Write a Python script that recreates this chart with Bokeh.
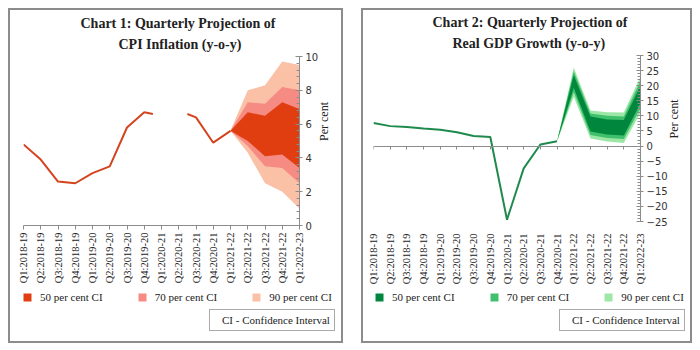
import math
from bokeh.plotting import figure
from bokeh.models import (LinearAxis, FixedTicker, SingleIntervalTicker, Legend,
                          LegendItem, Title, Range1d)
from bokeh.layouts import row, column
from bokeh.embed import file_html
from bokeh.resources import INLINE

# ---------------- data ----------------
quarters = ["Q1:2018-19", "Q2:2018-19", "Q3:2018-19", "Q4:2018-19",
            "Q1:2019-20", "Q2:2019-20", "Q3:2019-20", "Q4:2019-20",
            "Q1:2020-21", "Q2:2020-21", "Q3:2020-21", "Q4:2020-21",
            "Q1:2021-22", "Q2:2021-22", "Q3:2021-22", "Q4:2021-22",
            "Q1:2022-23"]

# Chart 1: CPI inflation (y-o-y, per cent)
cpi_actual = [4.8, 3.9, 2.6, 2.5, 3.1, 3.5, 5.8, 6.7, 6.5, 6.8, 6.4, 4.9, 5.6]
cpi_gap_quarters = ["Q1:2020-21", "Q2:2020-21"]
cpi_fan_start = "Q1:2021-22"
cpi_50_low = [5.6, 5.0, 4.1, 4.2, 3.4]
cpi_50_high = [5.6, 6.7, 6.5, 7.3, 6.9]
cpi_70_low = [5.6, 4.7, 3.5, 3.4, 2.5]
cpi_70_high = [5.6, 7.3, 7.2, 8.2, 8.0]
cpi_90_low = [5.6, 4.3, 2.5, 2.0, 1.0]
cpi_90_high = [5.6, 8.0, 8.3, 9.7, 9.5]

# Chart 2: Real GDP growth (y-o-y, per cent)
gdp_actual = [7.6, 6.6, 6.3, 5.8, 5.4, 4.6, 3.3, 3.0, -24.4, -7.4, 0.5, 1.6]
gdp_gap_quarters = []
gdp_fan_start = "Q4:2020-21"
gdp_50_low = [1.6, 19.3, 4.8, 3.8, 3.5, 14.2]
gdp_50_high = [1.6, 23.5, 9.8, 8.8, 8.6, 20.0]
gdp_70_low = [1.6, 17.9, 3.7, 2.7, 2.3, 12.6]
gdp_70_high = [1.6, 24.8, 10.8, 10.0, 9.8, 21.6]
gdp_90_low = [1.6, 16.3, 2.5, 1.5, 1.0, 11.0]
gdp_90_high = [1.6, 26.0, 11.8, 11.2, 11.1, 23.0]

ci_labels = ["50 per cent CI", "70 per cent CI", "90 per cent CI"]

SERIF = "Liberation Serif"
SANS = "DejaVu Sans"
AXIS_GREY = "#8c8c8c"
TEXT = "#222222"
LEG_H = 54


def broken_line(values, gaps):
    xs, ys, cx, cy = [], [], [], []
    for i, v in enumerate(values):
        if quarters[i] in gaps:
            if cx:
                cx.append(i - 0.5)
                cy.append((values[i - 1] + v) / 2)
                xs.append(cx)
                ys.append(cy)
                cx, cy = [], []
            continue
        if i > 0 and quarters[i - 1] in gaps:
            cx.append(i - 0.5)
            cy.append((values[i - 1] + v) / 2)
        cx.append(i)
        cy.append(v)
    if cx:
        xs.append(cx)
        ys.append(cy)
    return xs, ys


def no_align(fig):
    if "frame_align" in fig.properties():
        fig.frame_align = False


def make_panel(t1, t2, w, h, mb, yr, ystep, actual, gaps, fan_start, bands,
               band_colors, line_color, zero_axis, leg_loc, ci_loc, title_offsets):
    p = figure(width=w, height=h - LEG_H, x_range=Range1d(0, len(quarters) - 1),
               y_range=Range1d(*yr), output_backend="svg", toolbar_location=None,
               x_axis_location=None, y_axis_location=None, title=None,
               min_border_left=mb[0], min_border_right=mb[1],
               min_border_top=mb[2], min_border_bottom=mb[3] - LEG_H,
               outline_line_color=None, background_fill_color="white",
               border_fill_color="white")
    no_align(p)
    p.grid.visible = False

    # fan chart bands
    i0 = quarters.index(fan_start)
    fx = list(range(i0, i0 + len(bands[0][0])))
    for (lo, hi), col in zip(bands, band_colors):
        p.varea(x=fx, y1=lo, y2=hi, fill_color=col, fill_alpha=1.0)

    # actual line
    xs, ys = broken_line(actual, gaps)
    p.multi_line(xs, ys, line_color=line_color, line_width=2)

    # x axis (labels)
    xax = LinearAxis(ticker=FixedTicker(ticks=list(range(len(quarters)))),
                     major_label_overrides={i: q for i, q in enumerate(quarters)},
                     major_label_orientation=math.pi / 2,
                     major_label_text_font=SERIF, major_label_text_font_size="10.5px",
                     major_label_text_color=TEXT, major_label_standoff=3,
                     minor_tick_line_color=None)
    if zero_axis:
        xax.axis_line_color = None
        xax.major_tick_line_color = None
        xax.major_label_standoff = 6
    else:
        xax.axis_line_color = AXIS_GREY
        xax.major_tick_line_color = AXIS_GREY
        xax.major_tick_out = 4
        xax.major_tick_in = 0
    p.add_layout(xax, "below")

    if zero_axis:
        zax = LinearAxis(fixed_location=0,
                         ticker=FixedTicker(ticks=list(range(len(quarters)))),
                         major_label_overrides={i: "" for i in range(len(quarters))},
                         major_label_text_font_size="1px", major_label_standoff=0,
                         axis_line_color=AXIS_GREY, major_tick_line_color=AXIS_GREY,
                         major_tick_out=3, major_tick_in=0,
                         minor_tick_line_color=None)
        p.add_layout(zax, "below")

    # y axis on the right
    yax = LinearAxis(ticker=SingleIntervalTicker(interval=ystep, num_minor_ticks=5),
                     axis_label="Per cent", axis_label_text_font=SERIF,
                     axis_label_text_font_size="12px", axis_label_text_font_style="normal",
                     axis_label_text_color=TEXT, axis_label_standoff=3,
                     major_label_text_font=SANS, major_label_text_font_size="10px",
                     major_label_text_color="#333333", major_label_standoff=3,
                     axis_line_color=AXIS_GREY, major_tick_line_color=AXIS_GREY,
                     minor_tick_line_color=AXIS_GREY,
                     major_tick_in=4, major_tick_out=3, minor_tick_in=3, minor_tick_out=0)
    if "axis_label_orientation" in yax.properties():
        yax.axis_label_orientation = math.pi / 2
    p.add_layout(yax, "right")

    # titles (second line closest to the plot)
    for txt, so, off in ((t2, 9, title_offsets[1]), (t1, 0, title_offsets[0])):
        p.add_layout(Title(text=txt, align="left", offset=off, standoff=so,
                           text_font=SERIF, text_font_size="14px",
                           text_font_style="bold", text_color=TEXT), "above")

    # legend strip below the chart (band renderers lie outside its visible range)
    q = figure(width=w, height=LEG_H, x_range=Range1d(-2, -1), y_range=Range1d(0, 1),
               output_backend="svg", toolbar_location=None, x_axis_location=None,
               y_axis_location=None, title=None, min_border=0,
               outline_line_color=None, background_fill_color="white",
               border_fill_color="white")
    no_align(q)
    q.grid.visible = False
    lrends = [q.varea(x=fx, y1=lo, y2=hi, fill_color=col, fill_alpha=1.0)
              for (lo, hi), col in zip(bands, band_colors)]
    items = [LegendItem(label=ci_labels[k], renderers=[lrends[2 - k]]) for k in range(3)]
    leg = Legend(items=items, orientation="horizontal", location=leg_loc,
                 glyph_width=10, glyph_height=10, label_standoff=8, spacing=34,
                 padding=0, margin=0, label_height=12,
                 label_text_font=SERIF, label_text_font_size="11px",
                 label_text_color=TEXT, border_line_color=None,
                 background_fill_alpha=0)
    q.add_layout(leg)

    dummy = q.scatter(x=[], y=[], size=0, fill_alpha=0, line_alpha=0)
    ci = Legend(items=[LegendItem(label="CI - Confidence Interval", renderers=[dummy])],
                location=ci_loc, glyph_width=4, glyph_height=12, label_standoff=4,
                padding=4, margin=0, label_height=12,
                label_text_font=SERIF, label_text_font_size="11px",
                label_text_color=TEXT, border_line_color="#555555",
                border_line_width=1, background_fill_color="white")
    q.add_layout(ci)

    panel = column(p, q, spacing=0)
    panel.styles = {"border": "2px solid #8c8c8c", "background-color": "white"}
    return panel


p1 = make_panel("Chart 1: Quarterly Projection of", "CPI Inflation (y-o-y)",
                331, 331, (13, 39, 46, 116), (0, 10), 2, cpi_actual, cpi_gap_quarters,
                cpi_fan_start,
                [(cpi_90_low, cpi_90_high), (cpi_70_low, cpi_70_high), (cpi_50_low, cpi_50_high)],
                ["#fbc1a6", "#f58b82", "#e03e10"], "#d4441f", False,
                (12, 38), (199, 10), (57, 95))
p1.margin = (8, 0, 0, 8)

p2 = make_panel("Chart 2: Quarterly Projection of", "Real GDP Growth (y-o-y)",
                327, 331, (10, 40, 45, 118), (-25, 30), 5, gdp_actual, gdp_gap_quarters,
                gdp_fan_start,
                [(gdp_90_low, gdp_90_high), (gdp_70_low, gdp_70_high), (gdp_50_low, gdp_50_high)],
                ["#9ce6a6", "#40c06c", "#00873d"], "#1f8a4d", True,
                (11, 38), (196, 10), (59, 79))
p2.margin = (8, 0, 0, 18)

layout = row(p1, p2)
open("out.html", "w").write(file_html(layout, INLINE))
